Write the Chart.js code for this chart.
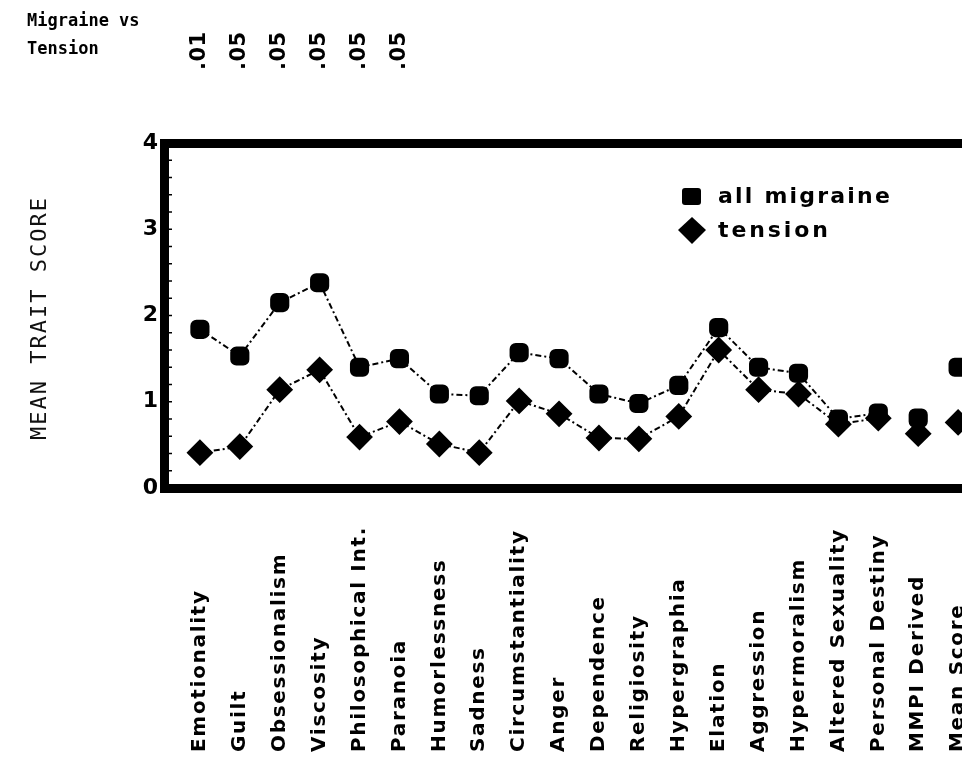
<!DOCTYPE html>
<html>
<head>
<meta charset="utf-8">
<script src="https://cdn.jsdelivr.net/npm/chart.js@4"></script>
<style>
  html, body { margin: 0; padding: 0; background: #fff; overflow: hidden; }
  #wrap { position: relative; width: 1020px; height: 766px; }
  #note { position: absolute; left: 27px; top: 6px; font: bold 17px "DejaVu Sans Mono", monospace; line-height: 28px; color: #000; }
</style>
</head>
<body>
<div id="wrap">
  <canvas id="chart" width="1020" height="766"></canvas>
  <div id="note">Migraine vs<br>Tension</div>
</div>
<script>
const categories = [
  "Emotionality", "Guilt", "Obsessionalism", "Viscosity", "Philosophical Int.",
  "Paranoia", "Humorlessness", "Sadness", "Circumstantiality", "Anger",
  "Dependence", "Religiosity", "Hypergraphia", "Elation", "Aggression",
  "Hypermoralism", "Altered Sexuality", "Personal Destiny", "MMPI Derived", "Mean Score"
];
const migraine = [1.84, 1.53, 2.15, 2.38, 1.40, 1.50, 1.09, 1.07, 1.57, 1.50,
                  1.09, 0.98, 1.19, 1.86, 1.40, 1.33, 0.80, 0.87, 0.81, 1.40];
const tension = [0.41, 0.48, 1.14, 1.37, 0.59, 0.77, 0.51, 0.41, 1.01, 0.86,
                 0.58, 0.57, 0.83, 1.60, 1.14, 1.09, 0.74, 0.81, 0.63, 0.76];
const significance = [".01", ".05", ".05", ".05", ".05", ".05"];
const yTicks = [0, 1, 2, 3, 4];

// last two categories are separate summary points, not joined to the profile
const lastJoined = 17;

const boldFamily = "'DejaVu Sans', sans-serif";

const textPlugin = {
  id: "texts",
  afterDraw(chart) {
    const ctx = chart.ctx;
    const x = chart.scales.x;
    const y = chart.scales.y;
    const area = chart.chartArea;
    ctx.save();
    ctx.fillStyle = "#000";
    ctx.strokeStyle = "#000";

    // small inner ticks on the value axis
    ctx.lineWidth = 1.5;
    for (let v = 0; v <= 4.001; v += 0.2) {
      const py = y.getPixelForValue(v);
      ctx.beginPath();
      ctx.moveTo(area.left + 4, py);
      ctx.lineTo(area.left + 8, py);
      ctx.stroke();
    }

    // category labels, rotated, all starting at the same baseline
    ctx.font = "bold 20px " + boldFamily;
    ctx.letterSpacing = "1.7px";
    ctx.textAlign = "left";
    ctx.textBaseline = "middle";
    categories.forEach((c, i) => {
      ctx.save();
      ctx.translate(x.getPixelForValue(i), 752);
      ctx.rotate(-Math.PI / 2);
      ctx.fillText(c, 0, 0);
      ctx.restore();
    });

    // significance levels above the first categories
    ctx.font = "bold 21px " + boldFamily;
    ctx.letterSpacing = "0.5px";
    significance.forEach((s, i) => {
      ctx.save();
      ctx.translate(x.getPixelForValue(i), 70);
      ctx.rotate(-Math.PI / 2);
      ctx.fillText(s, 0, 0);
      ctx.restore();
    });

    // y axis title
    ctx.font = "22px 'DejaVu Sans Mono', monospace";
    ctx.letterSpacing = "2px";
    ctx.fillStyle = "#111";
    ctx.textAlign = "center";
    ctx.save();
    ctx.translate(40, 318);
    ctx.rotate(-Math.PI / 2);
    ctx.fillText("MEAN TRAIT SCORE", 0, 0);
    ctx.restore();

    // legend
    ctx.fillStyle = "#000";
    ctx.font = "bold 22px " + boldFamily;
    ctx.letterSpacing = "2.2px";
    ctx.textAlign = "left";
    ctx.beginPath();
    ctx.roundRect(682, 188, 19, 17, 3);
    ctx.fill();
    ctx.fillText("all migraine", 718, 197);
    ctx.beginPath();
    ctx.moveTo(692, 217);
    ctx.lineTo(706, 230);
    ctx.lineTo(692, 244);
    ctx.lineTo(678, 230);
    ctx.closePath();
    ctx.fill();
    ctx.letterSpacing = "2.9px";
    ctx.fillText("tension", 718, 231);
    ctx.restore();
  }
};

function series(values) {
  return values.map((v, i) => ({ x: i, y: v }));
}

const hideTail = ctx => ctx.p0DataIndex >= lastJoined ? "rgba(0,0,0,0)" : "#000";

new Chart(document.getElementById("chart"), {
  type: "line",
  data: {
    datasets: [
      {
        label: "all migraine",
        data: series(migraine),
        borderColor: "#000",
        borderWidth: 2,
        borderDash: [6, 3, 2, 3],
        backgroundColor: "#000",
        pointStyle: "rectRounded",
        pointRadius: 10,
        pointBackgroundColor: "#000",
        segment: { borderColor: hideTail }
      },
      {
        label: "tension",
        data: series(tension),
        borderColor: "#000",
        borderWidth: 2,
        borderDash: [6, 3, 2, 3],
        backgroundColor: "#000",
        pointStyle: "rectRot",
        pointRadius: 12,
        pointBackgroundColor: "#000",
        segment: { borderColor: hideTail }
      }
    ]
  },
  options: {
    responsive: false,
    animation: false,
    layout: { padding: { left: 124, right: 0, top: 0, bottom: 0 } },
    plugins: {
      legend: { display: false },
      tooltip: { enabled: false }
    },
    scales: {
      x: {
        type: "linear",
        min: -0.9,
        max: 20.2,
        grid: { display: false },
        ticks: { display: false },
        border: { display: true, color: "#000", width: 9 },
        afterFit: scale => { scale.height = 278; }
      },
      x2: {
        type: "linear",
        position: "top",
        min: -0.9,
        max: 20.2,
        grid: { display: false },
        ticks: { display: false },
        border: { display: true, color: "#000", width: 9 },
        afterFit: scale => { scale.height = 143; }
      },
      y: {
        min: 0,
        max: 4,
        afterBuildTicks: scale => { scale.ticks = yTicks.map(v => ({ value: v })); },
        grid: { drawOnChartArea: false, drawTicks: false },
        border: { display: true, color: "#000", width: 9 },
        ticks: {
          color: "#000",
          padding: 6,
          font: { family: boldFamily, size: 22, weight: "bold" }
        },
        afterFit: scale => { scale.width = 40; }
      }
    }
  },
  plugins: [textPlugin]
});
</script>
</body>
</html>
